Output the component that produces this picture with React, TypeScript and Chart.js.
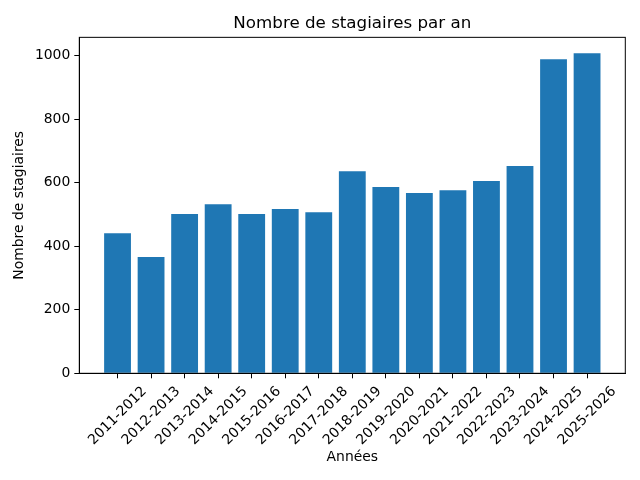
import React, { useEffect, useRef } from "react";
import { Chart, registerables } from "chart.js";

Chart.register(...registerables);

const categories = [
  "2011-2012", "2012-2013", "2013-2014", "2014-2015", "2015-2016",
  "2016-2017", "2017-2018", "2018-2019", "2019-2020", "2020-2021",
  "2021-2022", "2022-2023", "2023-2024", "2024-2025", "2025-2026",
];
const values = [441, 366, 501, 532, 501, 517, 507, 636, 586, 567, 576, 605, 652, 988, 1007];
const yTicks = [0, 200, 400, 600, 800, 1000];
const chartTitle = "Nombre de stagiaires par an";
const xTitle = "Années";
const yTitle = "Nombre de stagiaires";

const FONT = "'DejaVu Sans', sans-serif";

export default function App() {
  const ref = useRef<HTMLCanvasElement>(null);
  useEffect(() => {
    const frame = {
      id: "frame",
      afterDatasetsDraw(chart: any) {
        const { ctx, chartArea: a } = chart;
        ctx.save();
        ctx.strokeStyle = "#000";
        ctx.lineWidth = 1;
        ctx.strokeRect(a.left, a.top, a.right - a.left, a.bottom - a.top);
        ctx.restore();
      },
    };
    const chart = new Chart(ref.current!, {
      type: "bar",
      data: {
        datasets: [
          {
            data: values.map((v, i) => ({ x: i, y: v })),
            backgroundColor: "#1f77b4",
            barPercentage: 0.8,
            categoryPercentage: 1,
          },
        ],
      },
      options: {
        responsive: false,
        animation: false,
        devicePixelRatio: 1,
        layout: { padding: { left: 0, right: 14.7, top: 0, bottom: 0 } },
        plugins: {
          legend: { display: false },
          tooltip: { enabled: false },
          title: {
            display: true,
            fullSize: false,
            text: chartTitle,
            color: "#000",
            font: { family: FONT, size: 16.7, weight: "normal" },
            padding: { top: 13.5, bottom: 3.8 },
          },
        },
        scales: {
          x: {
            type: "linear",
            offset: false,
            min: -1.14,
            max: 15.14,
            afterBuildTicks: (s: any) => {
              s.ticks = categories.map((_, i) => ({ value: i }));
            },
            afterFit: (s: any) => {
              s.height = 106.7;
            },
            grid: { offset: false, drawOnChartArea: false, tickLength: 5, tickColor: "#000", tickWidth: 1 },
            border: { color: "#000", width: 1 },
            ticks: {
              autoSkip: false,
              maxRotation: 45,
              minRotation: 45,
              labelOffset: 27,
              padding: 5,
              color: "#000",
              font: { family: FONT, size: 13.9 },
              callback: (v: any) => categories[v] ?? "",
            },
            title: {
              display: true,
              text: xTitle,
              color: "#000",
              font: { family: FONT, size: 13.9 },
              padding: { top: 0, bottom: 14 },
            },
          },
          y: {
            min: 0,
            max: 1057,
            afterBuildTicks: (s: any) => {
              s.ticks = yTicks.map((v) => ({ value: v }));
            },
            afterFit: (s: any) => {
              s.width = 79.3;
            },
            grid: { drawOnChartArea: false, tickLength: 5, tickColor: "#000", tickWidth: 1 },
            border: { color: "#000", width: 1 },
            ticks: {
              padding: 4,
              color: "#000",
              font: { family: FONT, size: 13.9 },
              callback: (v: any) => String(v),
            },
            title: {
              display: true,
              text: yTitle,
              color: "#000",
              font: { family: FONT, size: 13.9 },
              padding: { top: 11.5, bottom: 0 },
            },
          },
        },
      },
      plugins: [frame],
    } as any);
    return () => chart.destroy();
  }, []);
  return (
    <div style={{ position: "fixed", left: 0, top: 0, width: 640, height: 480, background: "#fff" }}>
      <canvas ref={ref} width={640} height={480} style={{ display: "block" }} />
    </div>
  );
}
